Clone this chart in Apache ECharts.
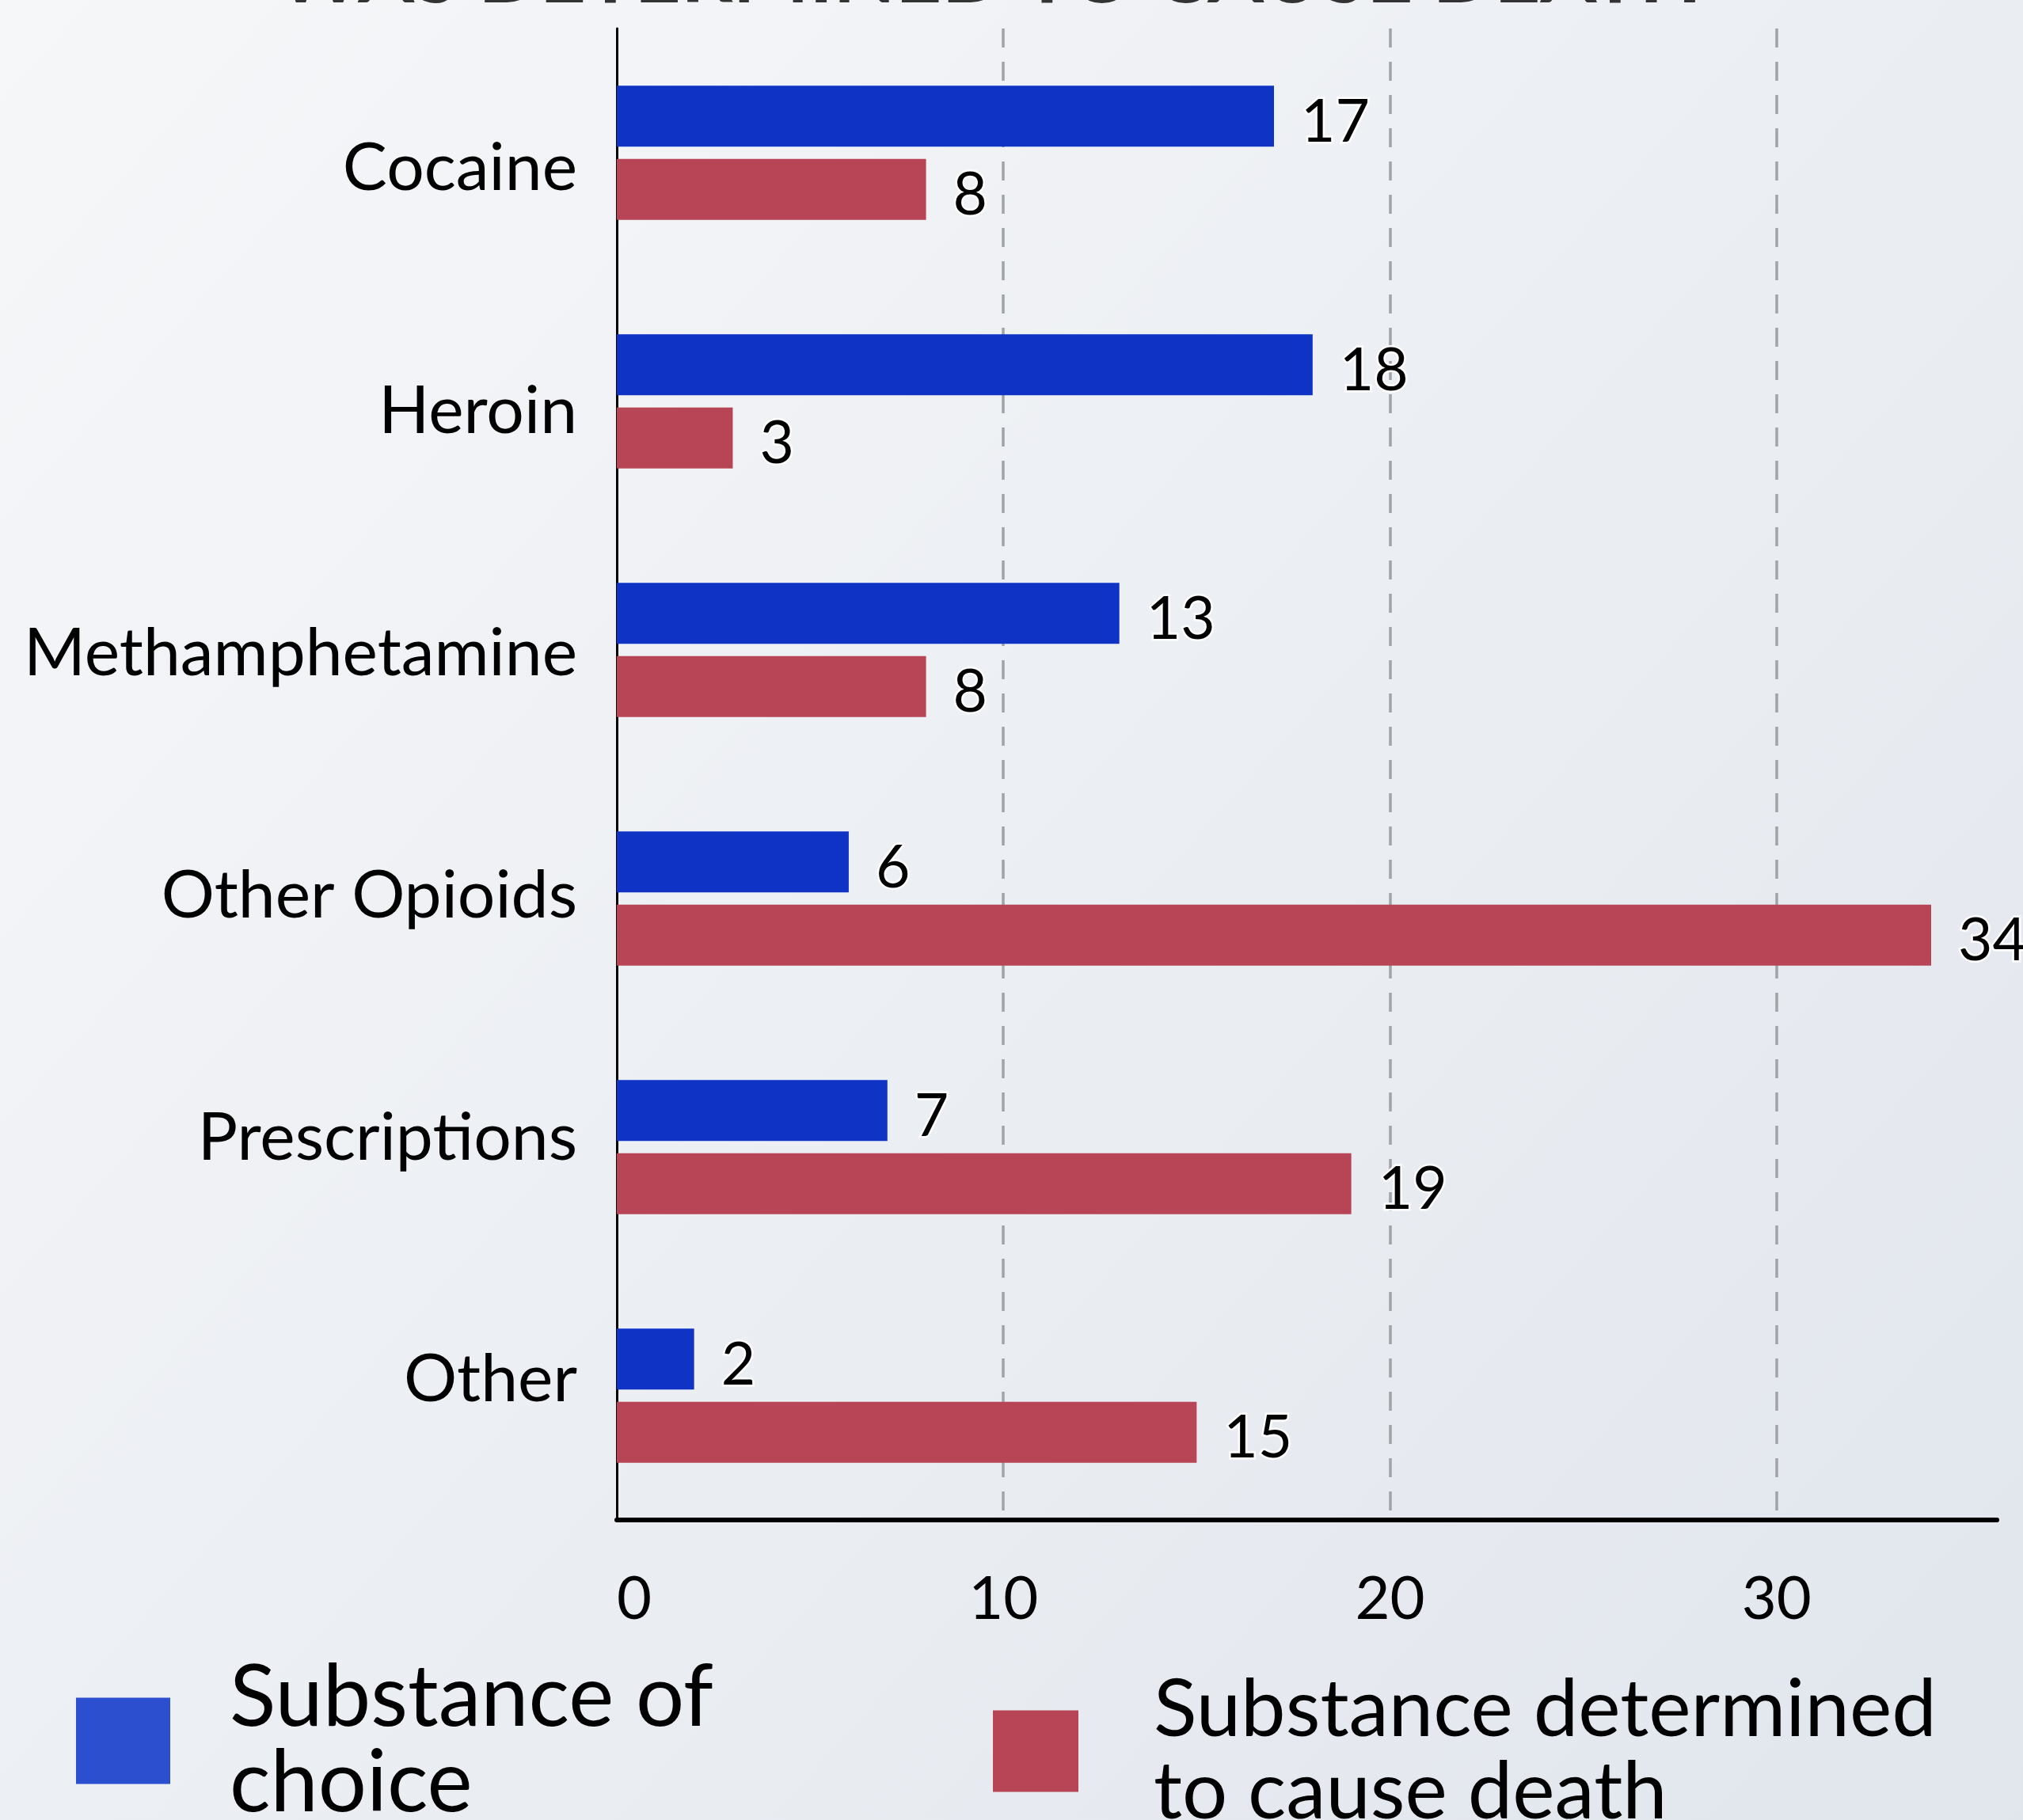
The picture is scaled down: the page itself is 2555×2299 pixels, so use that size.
<!DOCTYPE html>
<html>
<head>
<meta charset="utf-8">
<script src="https://cdn.jsdelivr.net/npm/echarts@6/dist/echarts.min.js"></script>
<style>
  html, body { margin: 0; padding: 0; }
  #chart { width: 2555px; height: 2299px; }
</style>
</head>
<body>
<div id="chart"></div>
<script>
const categories = ['Cocaine', 'Heroin', 'Methamphetamine', 'Other Opioids', 'Prescriptions', 'Other']
const choiceValues = [17, 18, 13, 6, 7, 2]
const deathValues = [8, 3, 8, 34, 19, 15]
const seriesNames = ['Substance of\nchoice', 'Substance determined\nto cause death']
const titleText = 'WAS DETERMINED TO CAUSE DEATH'

const font = 'Lato'
const blue = '#0e33c5'
const red = '#b84555'

// category labels sit a little off their band centre in the original
const labelShift = [20, 13, 5, -3, -11, -20]
const catRich = {}
labelShift.forEach((s, i) => {
  catRich['c' + i] = {
    fontFamily: font,
    fontSize: 84,
    color: '#000',
    padding: s > 0 ? [2 * s, 0, 0, 0] : [0, 0, -2 * s, 0]
  }
})

const valueLabel = {
  show: true,
  position: 'right',
  distance: 34,
  offset: [0, 8],
  fontFamily: font,
  fontSize: 75,
  color: '#000',
  textBorderColor: '#fff',
  textBorderWidth: 5
}

const chart = echarts.init(document.getElementById('chart'))

chart.setOption({
  backgroundColor: new echarts.graphic.LinearGradient(0, 0, 1, 1, [
    { offset: 0, color: '#f6f7f9' },
    { offset: 1, color: '#e1e6ed' }
  ]),
  animation: false,
  title: {
    text: titleText,
    left: 345,
    top: -86,
    textStyle: {
      fontFamily: font,
      fontWeight: 'bold',
      fontSize: 102,
      color: '#333'
    }
  },
  grid: {
    left: 779,
    right: 33,
    top: 36,
    bottom: 379,
    containLabel: false,
    outerBoundsMode: 'none'
  },
  legend: [
    {
      data: [{ name: seriesNames[0], itemStyle: { color: '#2b4fcf' } }],
      left: 91,
      top: 2086,
      icon: 'rect',
      itemWidth: 119,
      itemHeight: 109,
      selectedMode: false,
      textStyle: {
        fontFamily: font,
        fontSize: 108,
        lineHeight: 108,
        color: '#000',
        padding: [0, 0, 0, 70]
      }
    },
    {
      data: [{ name: seriesNames[1], itemStyle: { color: red } }],
      left: 1249,
      top: 2103,
      icon: 'rect',
      itemWidth: 108,
      itemHeight: 103,
      selectedMode: false,
      textStyle: {
        fontFamily: font,
        fontSize: 101,
        lineHeight: 104,
        color: '#000',
        padding: [0, 0, 0, 90]
      }
    }
  ],
  xAxis: {
    type: 'value',
    min: 0,
    max: 35.7,
    interval: 10,
    axisLine: { show: true, lineStyle: { color: '#000', width: 6 } },
    axisTick: { show: false },
    axisLabel: {
      fontFamily: font,
      fontSize: 76,
      color: '#000',
      margin: 62,
      showMaxLabel: false,
      alignMinLabel: 'left'
    },
    splitLine: {
      show: true,
      showMinLine: false,
      showMaxLine: false,
      lineStyle: { color: '#a0a3a7', width: 3.5, type: [24, 18] }
    }
  },
  yAxis: {
    type: 'category',
    data: categories,
    inverse: true,
    axisLine: { show: true, lineStyle: { color: '#000', width: 3 } },
    axisTick: { show: false },
    axisLabel: {
      margin: 50,
      formatter: (v, i) => '{c' + i + '|' + v + '}',
      rich: catRich
    }
  },
  series: [
    {
      name: seriesNames[0],
      type: 'bar',
      data: choiceValues,
      barWidth: 77,
      barGap: '20%',
      itemStyle: { color: blue },
      label: valueLabel
    },
    {
      name: seriesNames[1],
      type: 'bar',
      data: deathValues,
      barWidth: 77,
      barGap: '20%',
      itemStyle: { color: red },
      label: valueLabel
    }
  ]
})
</script>
</body>
</html>
